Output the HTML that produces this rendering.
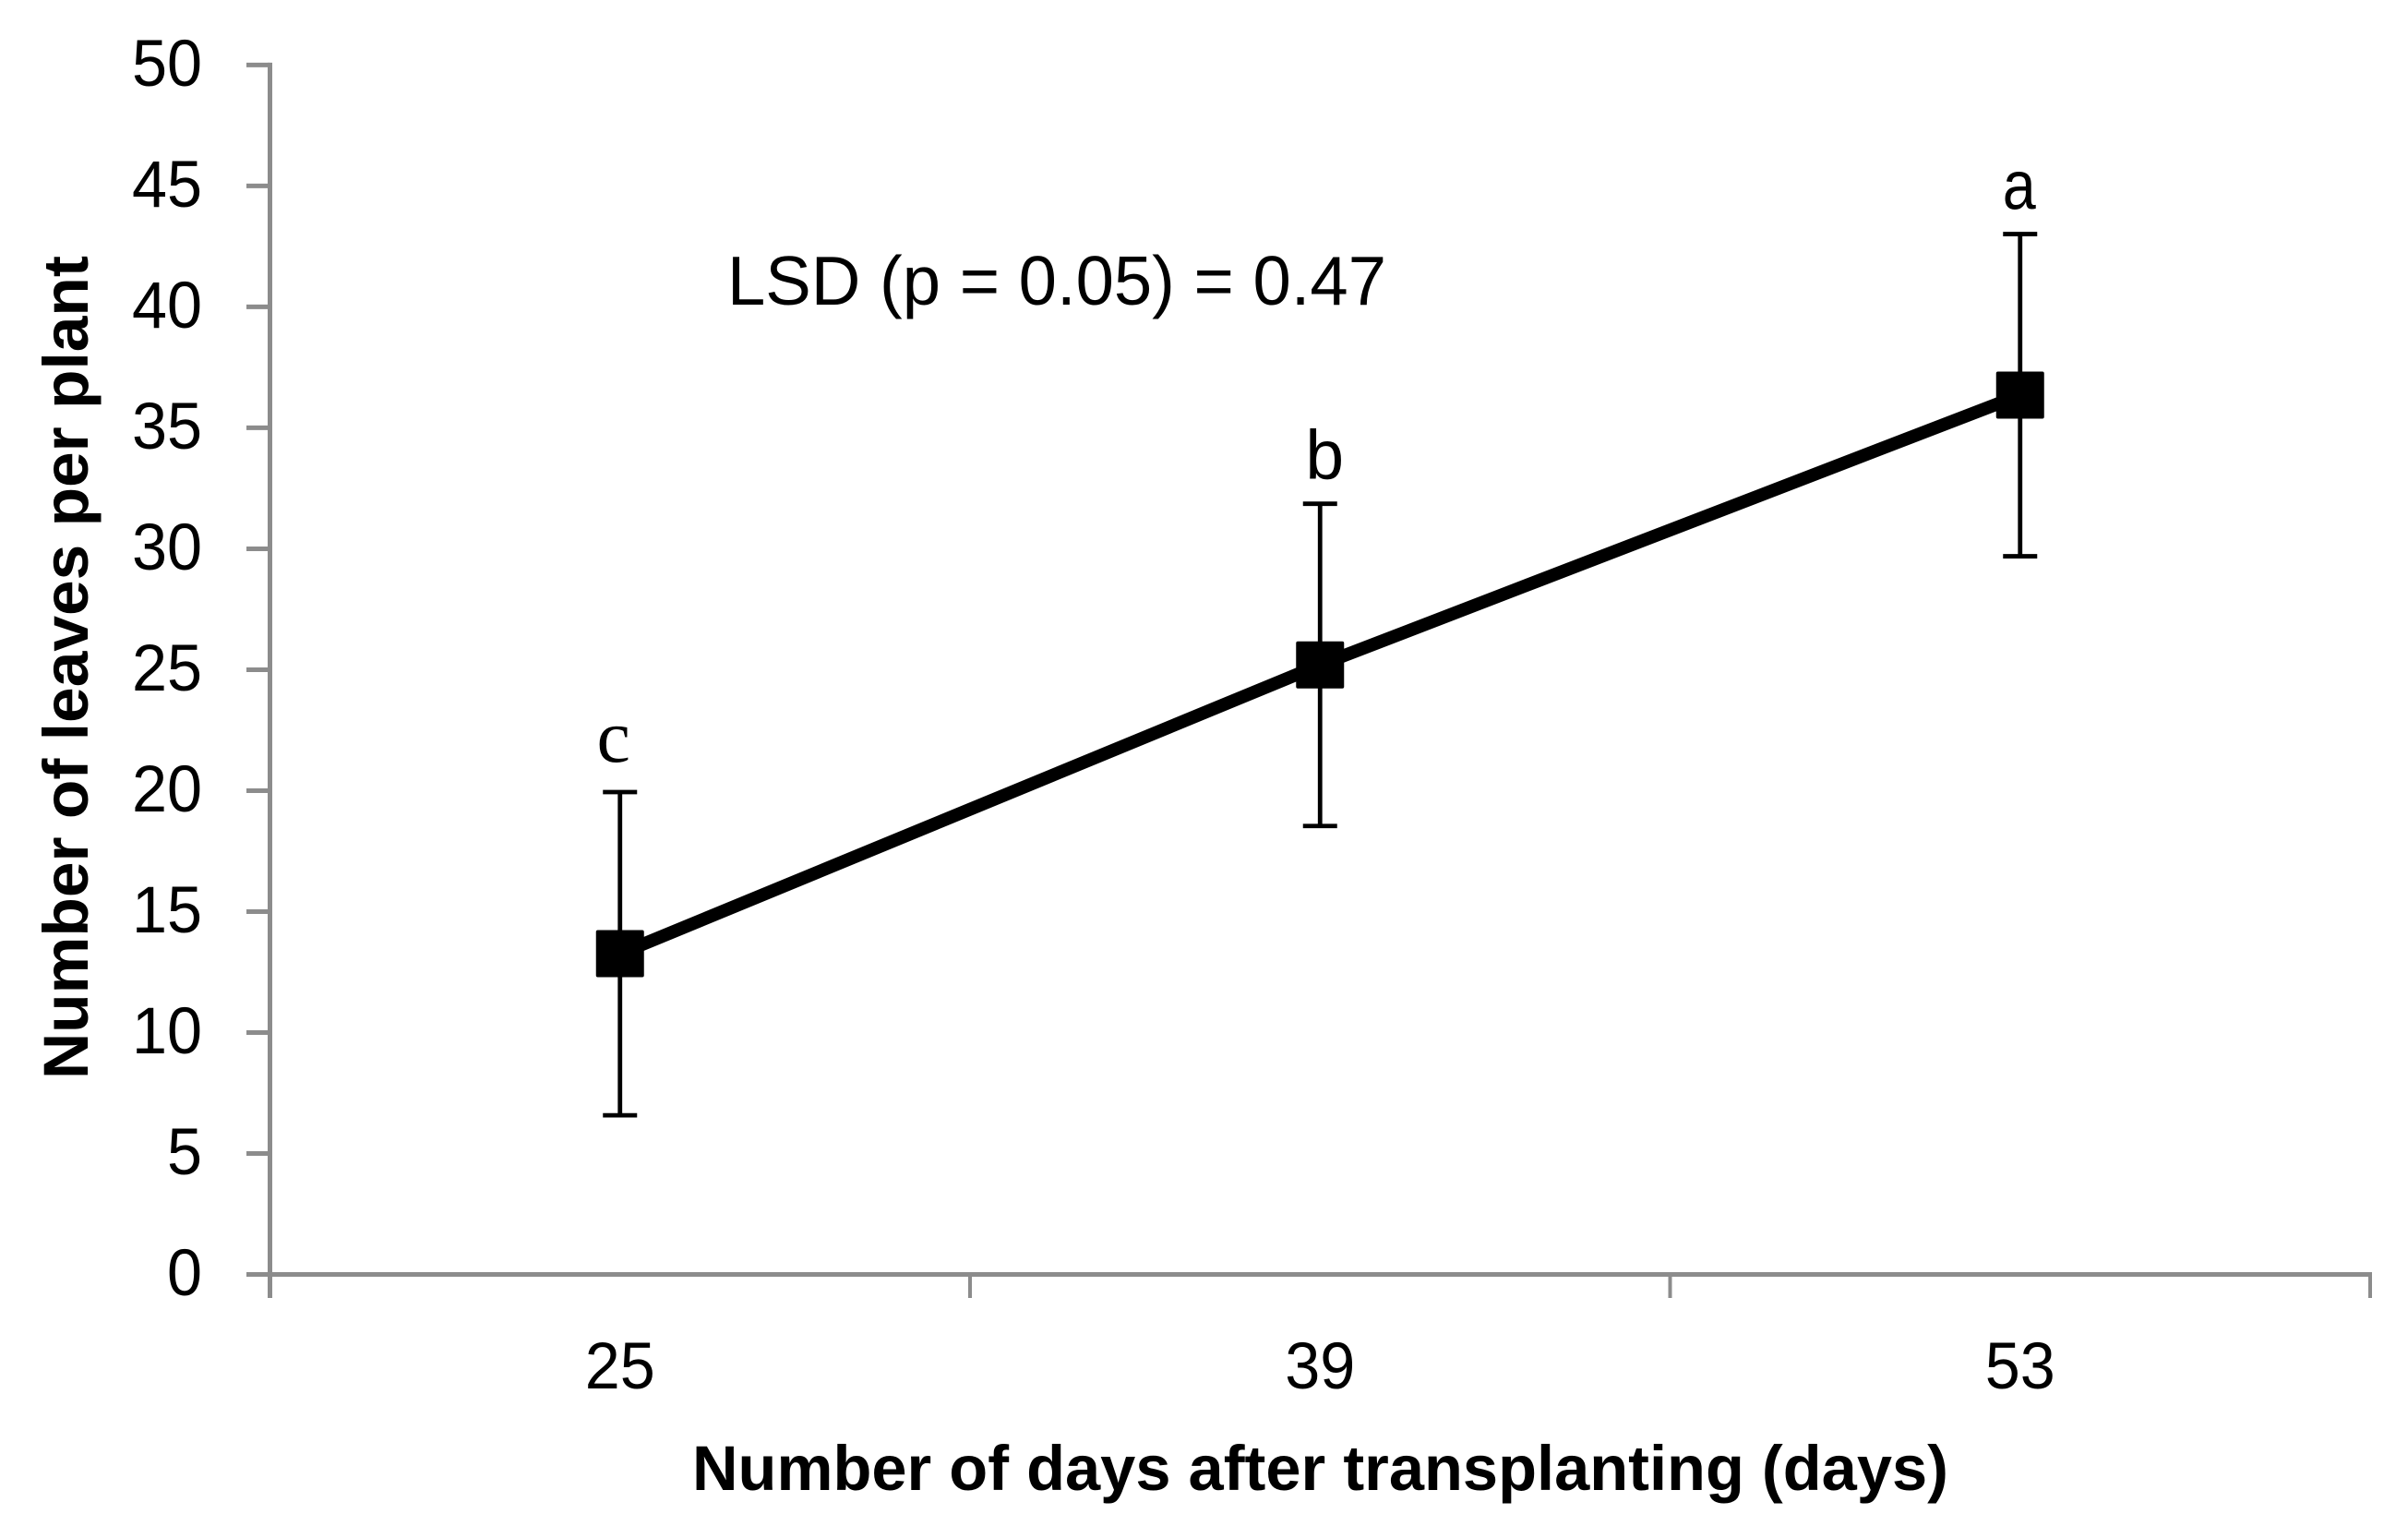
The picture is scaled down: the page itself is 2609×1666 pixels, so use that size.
<!DOCTYPE html>
<html lang="en">
<head>
<meta charset="utf-8">
<title>Number of leaves per plant</title>
<style>
  html, body { margin: 0; padding: 0; background: #fff; }
  svg { display: block; }
  text { font-family: "Liberation Sans", sans-serif; fill: #000; }
</style>
</head>
<body>
<svg id="chart" xmlns="http://www.w3.org/2000/svg" width="2609" height="1666" viewBox="0 0 2609 1666">
  <rect x="0" y="0" width="2609" height="1666" fill="#ffffff"/>
  <g id="axes"></g>
  <g id="errors"></g>
  <g id="series"></g>
  <g id="letters"></g>
  <text x="788" y="330" font-size="75" textLength="714" lengthAdjust="spacingAndGlyphs">LSD (p = 0.05) = 0.47</text>
  <text x="750" y="1614" font-size="69" font-weight="700" textLength="1361" lengthAdjust="spacingAndGlyphs">Number of days after transplanting (days)</text>
  <text transform="translate(95 1169) rotate(-90)" x="0" y="0" font-size="69" font-weight="700" textLength="892" lengthAdjust="spacingAndGlyphs">Number of leaves per plant</text>
</svg>
<script>
const categories = ["25", "39", "53"];
const leafCounts = [13.26, 25.2, 36.35];
const errorAmounts = [6.68, 6.66, 6.66];
const significanceLetters = ["c", "b", "a"];
const yTickValues = [0, 5, 10, 15, 20, 25, 30, 35, 40, 45, 50];

const NS = "http://www.w3.org/2000/svg";
const plotLeft = 292.5, plotRight = 2568, plotTop = 70.4, plotBottom = 1380.5;
const yMin = 0, yMax = 50;
const axisColor = "#8c8c8c";

function yScale(v) {
  return plotBottom - (v - yMin) / (yMax - yMin) * (plotBottom - plotTop);
}
function xBand(i) {
  return plotLeft + i * (plotRight - plotLeft) / categories.length;
}
function xScale(i) {
  return xBand(i + 0.5);
}
function make(tag, parent, attrs) {
  const el = document.createElementNS(NS, tag);
  for (const k in attrs) el.setAttribute(k, attrs[k]);
  parent.appendChild(el);
  return el;
}

const axes = document.getElementById("axes");
const errors = document.getElementById("errors");
const series = document.getElementById("series");
const letters = document.getElementById("letters");

const yAxisLine = make("line", axes, { x1: plotLeft, x2: plotLeft, y1: plotTop - 2.5, y2: 1406, stroke: axisColor, "stroke-width": 5 });



const xAxisLine = make("line", axes, { x1: 267, x2: plotRight + 2, y1: plotBottom, y2: plotBottom, stroke: axisColor, "stroke-width": 5 });



yTickValues.forEach(function (v) {
  const y = yScale(v);
  const tick = make("line", axes, { x1: 267, x2: plotLeft, y1: y, y2: y, stroke: axisColor, "stroke-width": 5 });
  
  
  const text = String(v);
  const label = make("text", axes, { x: 219, y: y + 22.5, "font-size": 71, "text-anchor": "end", textLength: text.length * 38, lengthAdjust: "spacingAndGlyphs" });
  label.textContent = text;
  
  
});

for (let i = 1; i <= categories.length; i++) {
  const x = xBand(i);
  const tick = make("line", axes, { x1: x, x2: x, y1: plotBottom, y2: 1406, stroke: axisColor, "stroke-width": 4 });
  
  
}

categories.forEach(function (c, i) {
  const label = make("text", axes, { x: xScale(i), y: 1504, "font-size": 71, "text-anchor": "middle", textLength: c.length * 38, lengthAdjust: "spacingAndGlyphs" });
  label.textContent = c;
  
  
});

leafCounts.forEach(function (v, i) {
  const x = xScale(i);
  const top = yScale(v + errorAmounts[i]);
  const bottom = yScale(v - errorAmounts[i]);
  const stem = make("line", errors, { x1: x, x2: x, y1: top, y2: bottom, stroke: "#000", "stroke-width": 4.8 });
  
  
  const capTop = make("line", errors, { x1: x - 18.5, x2: x + 18.5, y1: top, y2: top, stroke: "#000", "stroke-width": 4.8 });
  
  
  const capBottom = make("line", errors, { x1: x - 18.5, x2: x + 18.5, y1: bottom, y2: bottom, stroke: "#000", "stroke-width": 4.8 });
  
  
});

const linePoints = leafCounts.map(function (v, i) { return xScale(i) + "," + yScale(v); }).join(" ");
const seriesLine = make("polyline", series, { points: linePoints, fill: "none", stroke: "#000", "stroke-width": 14, "stroke-linejoin": "round" });



leafCounts.forEach(function (v, i) {
  const marker = make("rect", series, { x: xScale(i) - 26, y: yScale(v) - 25.5, width: 52, height: 51, rx: 2, fill: "#000" });
  
  
});

significanceLetters.forEach(function (s, i) {
  const isSerif = s === "c";
  const nudgeX = s === "c" ? -7 : (s === "b" ? 5 : -1);
  const gap = s === "c" ? 33 : 27;
  const label = make("text", letters, {
    x: xScale(i) + nudgeX,
    y: yScale(leafCounts[i] + errorAmounts[i]) - gap,
    "font-size": isSerif ? 82 : 75,
    "text-anchor": "middle"
  });
  if (isSerif) label.style.fontFamily = '"Liberation Serif", serif';
  if (s === "a") {
    label.setAttribute("textLength", "36");
    label.setAttribute("lengthAdjust", "spacingAndGlyphs");
  }
  label.textContent = s;
  
  
});
</script>
</body>
</html>
